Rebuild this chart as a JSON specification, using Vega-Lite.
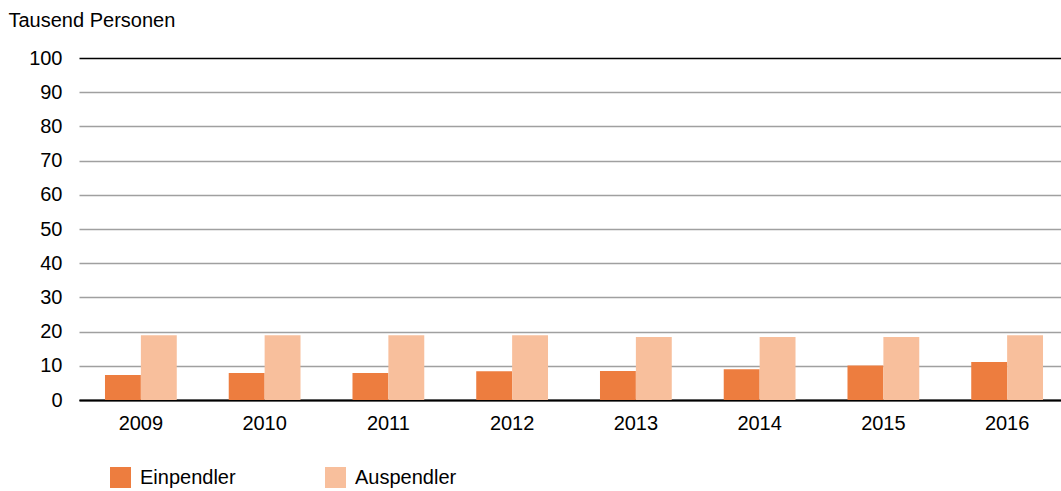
{
  "$schema": "https://vega.github.io/schema/vega-lite/v6.json",
  "autosize": "none",
  "width": 990,
  "height": 342,
  "padding": {"left": 79, "top": 58, "right": 0, "bottom": 91},
  "background": "white",
  "config": {"view": {"stroke": null}, "font": "Liberation Sans"},
  "data": {"values": [
    {"Jahr": "2009", "Art": "Einpendler", "Wert": 7.3},
    {"Jahr": "2009", "Art": "Auspendler", "Wert": 18.9},
    {"Jahr": "2010", "Art": "Einpendler", "Wert": 7.9},
    {"Jahr": "2010", "Art": "Auspendler", "Wert": 18.9},
    {"Jahr": "2011", "Art": "Einpendler", "Wert": 7.9},
    {"Jahr": "2011", "Art": "Auspendler", "Wert": 18.9},
    {"Jahr": "2012", "Art": "Einpendler", "Wert": 8.4},
    {"Jahr": "2012", "Art": "Auspendler", "Wert": 18.9},
    {"Jahr": "2013", "Art": "Einpendler", "Wert": 8.5},
    {"Jahr": "2013", "Art": "Auspendler", "Wert": 18.4},
    {"Jahr": "2014", "Art": "Einpendler", "Wert": 9.0},
    {"Jahr": "2014", "Art": "Auspendler", "Wert": 18.4},
    {"Jahr": "2015", "Art": "Einpendler", "Wert": 10.1},
    {"Jahr": "2015", "Art": "Auspendler", "Wert": 18.4},
    {"Jahr": "2016", "Art": "Einpendler", "Wert": 11.1},
    {"Jahr": "2016", "Art": "Auspendler", "Wert": 18.9}
  ]},
  "mark": {"type": "bar"},
  "encoding": {
    "x": {
      "field": "Jahr", "type": "nominal",
      "scale": {"paddingInner": 0.42, "paddingOuter": 0.21},
      "axis": {
        "title": null, "labelAngle": 0, "ticks": false,
        "domain": true, "domainColor": "black", "domainWidth": 2,
        "labelFontSize": 20, "labelColor": "black", "labelPadding": 13
      }
    },
    "xOffset": {"field": "Art", "type": "nominal", "sort": ["Einpendler", "Auspendler"]},
    "y": {
      "field": "Wert", "type": "quantitative",
      "scale": {"domain": [0, 100]},
      "axis": {
        "values": [0, 10, 20, 30, 40, 50, 60, 70, 80, 90, 100],
        "title": "Tausend Personen", "titleAngle": 0, "titleX": -71, "titleY": -32,
        "titleAlign": "left", "titleBaseline": "alphabetic", "titleFontSize": 20,
        "titleFontWeight": "normal", "titleColor": "black",
        "domain": false, "ticks": false, "labelFontSize": 20, "labelColor": "black",
        "labelPadding": 17,
        "grid": true,
        "gridColor": {"condition": {"test": "datum.value === 100 || datum.value === 0", "value": "black"}, "value": "#a0a0a0"},
        "gridWidth": 1.5, "gridOpacity": 1
      }
    },
    "color": {
      "field": "Art", "type": "nominal",
      "scale": {"domain": ["Einpendler", "Auspendler"], "range": ["#ED7D3F", "#F8BF9C"]},
      "legend": {
        "title": null, "orient": "none", "legendX": 31, "legendY": 409,
        "direction": "horizontal", "columns": 2, "columnPadding": 89,
        "symbolType": "square", "symbolSize": 441, "symbolStrokeWidth": 0,
        "labelFontSize": 20, "labelColor": "black", "labelOffset": 9
      }
    }
  }
}
